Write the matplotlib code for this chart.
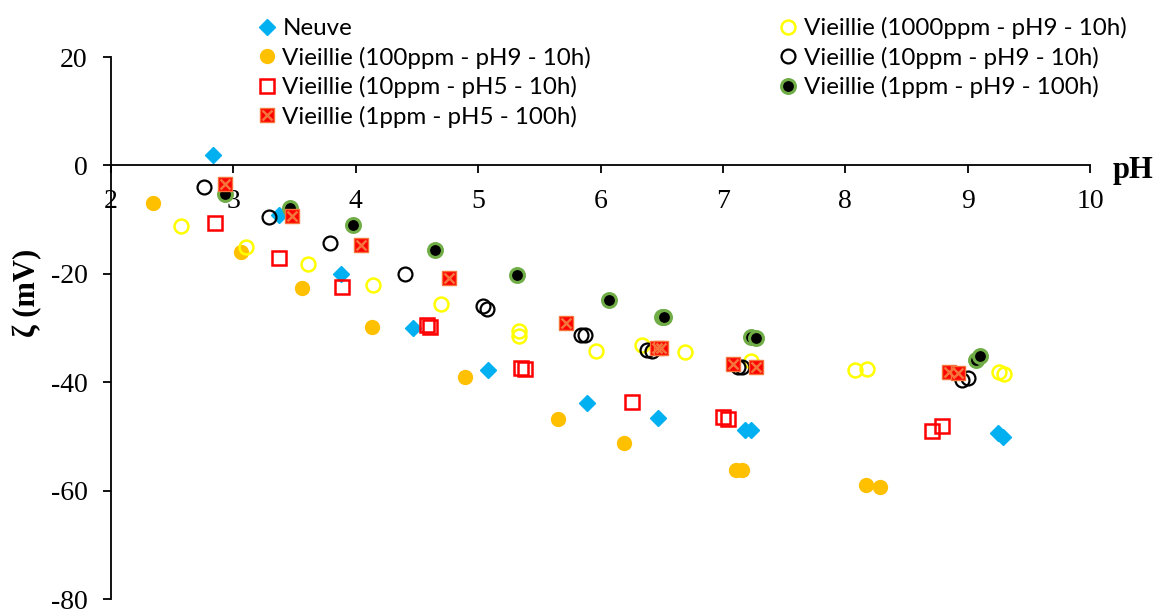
import matplotlib
matplotlib.use("Agg")
import matplotlib.pyplot as plt
from matplotlib.lines import Line2D

plt.rcParams["font.family"] = "Liberation Serif"
plt.rcParams["axes.unicode_minus"] = False

# pH / zeta potential (mV)
neuve_ph = [2.83, 3.37, 3.88, 4.47, 5.08, 5.89, 6.47, 7.18, 7.23, 9.25, 9.29]
neuve_z = [2.0, -9.2, -20.0, -30.0, -37.8, -43.9, -46.6, -48.8, -48.8, -49.4, -50.1]

v100_ph = [2.34, 3.06, 3.56, 4.13, 4.89, 5.65, 6.19, 7.11, 7.16, 8.17, 8.28]
v100_z = [-7.0, -16.0, -22.7, -29.9, -39.1, -46.8, -51.2, -56.2, -56.2, -59.0, -59.4]

v1000_ph = [2.57, 3.10, 3.61, 4.14, 4.70, 5.33, 5.33, 5.96, 6.34, 6.69, 7.23, 8.08, 8.18, 9.26, 9.30]
v1000_z = [-11.1, -15.0, -18.2, -22.1, -25.6, -30.6, -31.5, -34.3, -33.2, -34.5, -36.0, -37.7, -37.6, -38.2, -38.4]

v10ph9_ph = [2.76, 3.29, 3.79, 4.40, 5.04, 5.07, 5.84, 5.87, 6.38, 6.42, 7.12, 7.16, 8.95, 9.00]
v10ph9_z = [-4.0, -9.6, -14.4, -20.1, -26.0, -26.4, -31.2, -31.2, -34.1, -34.3, -37.2, -37.2, -39.6, -39.3]

v1ph9_ph = [2.93, 3.46, 3.98, 4.65, 5.32, 6.07, 6.50, 6.52, 7.23, 7.27, 9.07, 9.10]
v1ph9_z = [-5.3, -7.9, -10.9, -15.6, -20.3, -24.8, -28.0, -28.0, -31.7, -31.9, -35.9, -35.2]

v10ph5_ph = [2.85, 3.37, 3.89, 4.58, 4.61, 5.35, 5.38, 6.26, 7.00, 7.04, 8.71, 8.79]
v10ph5_z = [-10.7, -17.1, -22.5, -29.5, -29.9, -37.4, -37.6, -43.7, -46.5, -46.8, -49.0, -48.1]

v1ph5_ph = [2.93, 3.48, 4.04, 4.76, 5.72, 6.46, 6.49, 7.08, 7.27, 8.85, 8.92]
v1ph5_z = [-3.5, -9.4, -14.6, -20.8, -29.1, -33.7, -33.7, -36.7, -37.2, -38.2, -38.3]

labels = ["Neuve",
          "Vieillie (100ppm - pH9 - 10h)",
          "Vieillie (10ppm - pH5 - 10h)",
          "Vieillie (1ppm - pH5 - 100h)",
          "Vieillie (1000ppm - pH9 - 10h)",
          "Vieillie (10ppm - pH9 - 10h)",
          "Vieillie (1ppm - pH9 - 100h)"]

fig = plt.figure(figsize=(11.59, 6.10), dpi=100)
ax = fig.add_axes([0.0958, 0.018, 0.8447, 0.8885])

ms = 10
ax.plot(neuve_ph, neuve_z, ls="none", marker="D", ms=ms * 0.8, color="#00B0F0", mec="#00B0F0")
ax.plot(v100_ph, v100_z, ls="none", marker="o", ms=ms, color="#FFC000", mec="#FFC000")
ax.plot(v1000_ph, v1000_z, ls="none", marker="o", ms=ms, mfc="none", mec="#FFFF00", mew=1.8)
ax.plot(v10ph9_ph, v10ph9_z, ls="none", marker="o", ms=ms, mfc="none", mec="black", mew=1.6)
ax.plot(v1ph9_ph, v1ph9_z, ls="none", marker="o", ms=ms, mfc="black", mec="#70AD47", mew=2.2)
ax.plot(v10ph5_ph, v10ph5_z, ls="none", marker="s", ms=ms, mfc="none", mec="#FF0000", mew=1.8)
ax.plot(v1ph5_ph, v1ph5_z, ls="none", marker="s", ms=ms, mfc="#FF0000", mec="#F4743B", mew=1.0)
ax.plot(v1ph5_ph, v1ph5_z, ls="none", marker="x", ms=ms * 0.75, mec="#F4743B", mew=1.8)

ax.set_xlim(2, 10)
ax.set_ylim(-80, 20)
ax.set_xticks(range(2, 11))
ax.set_yticks(range(-80, 21, 20))

ax.spines["top"].set_visible(False)
ax.spines["right"].set_visible(False)
ax.spines["bottom"].set_position(("data", 0))
ax.spines["bottom"].set_linewidth(1.3)
ax.spines["left"].set_linewidth(1.3)
ax.tick_params(direction="out", length=6, width=1.3, labelsize=20)
ax.tick_params(axis="x", pad=11)
ax.tick_params(axis="y", pad=11)

ax.set_ylabel("ζ (mV)", fontsize=22, fontweight="bold")
ax.yaxis.set_label_coords(-0.0705, 0.565)
ax.text(1.0235, -2.4, "pH", transform=ax.get_yaxis_transform(),
        fontsize=22, fontweight="bold", va="baseline", ha="left")

# legend with the same marker styles
h = [
    Line2D([], [], ls="none", marker="D", ms=ms * 0.8, color="#00B0F0"),
    Line2D([], [], ls="none", marker="o", ms=ms, color="#FFC000"),
    Line2D([], [], ls="none", marker="s", ms=ms, mfc="none", mec="#FF0000", mew=1.8),
    (Line2D([], [], ls="none", marker="s", ms=ms, mfc="#FF0000", mec="#F4743B", mew=1.0),
     Line2D([], [], ls="none", marker="x", ms=ms * 0.75, mec="#F4743B", mew=1.8)),
    Line2D([], [], ls="none", marker="o", ms=ms, mfc="none", mec="#FFFF00", mew=1.8),
    Line2D([], [], ls="none", marker="o", ms=ms, mfc="none", mec="black", mew=1.6),
    Line2D([], [], ls="none", marker="o", ms=ms, mfc="black", mec="#70AD47", mew=2.2),
]
leg = fig.legend(h, labels, ncol=2, loc="upper left", bbox_to_anchor=(0.204, 1.008),
                 frameon=False, prop={"family": "Lato", "size": 17.4}, handlelength=0.7,
                 handletextpad=0.3, columnspacing=7.8, labelspacing=0.31)

fig.savefig("out.png", dpi=100)
